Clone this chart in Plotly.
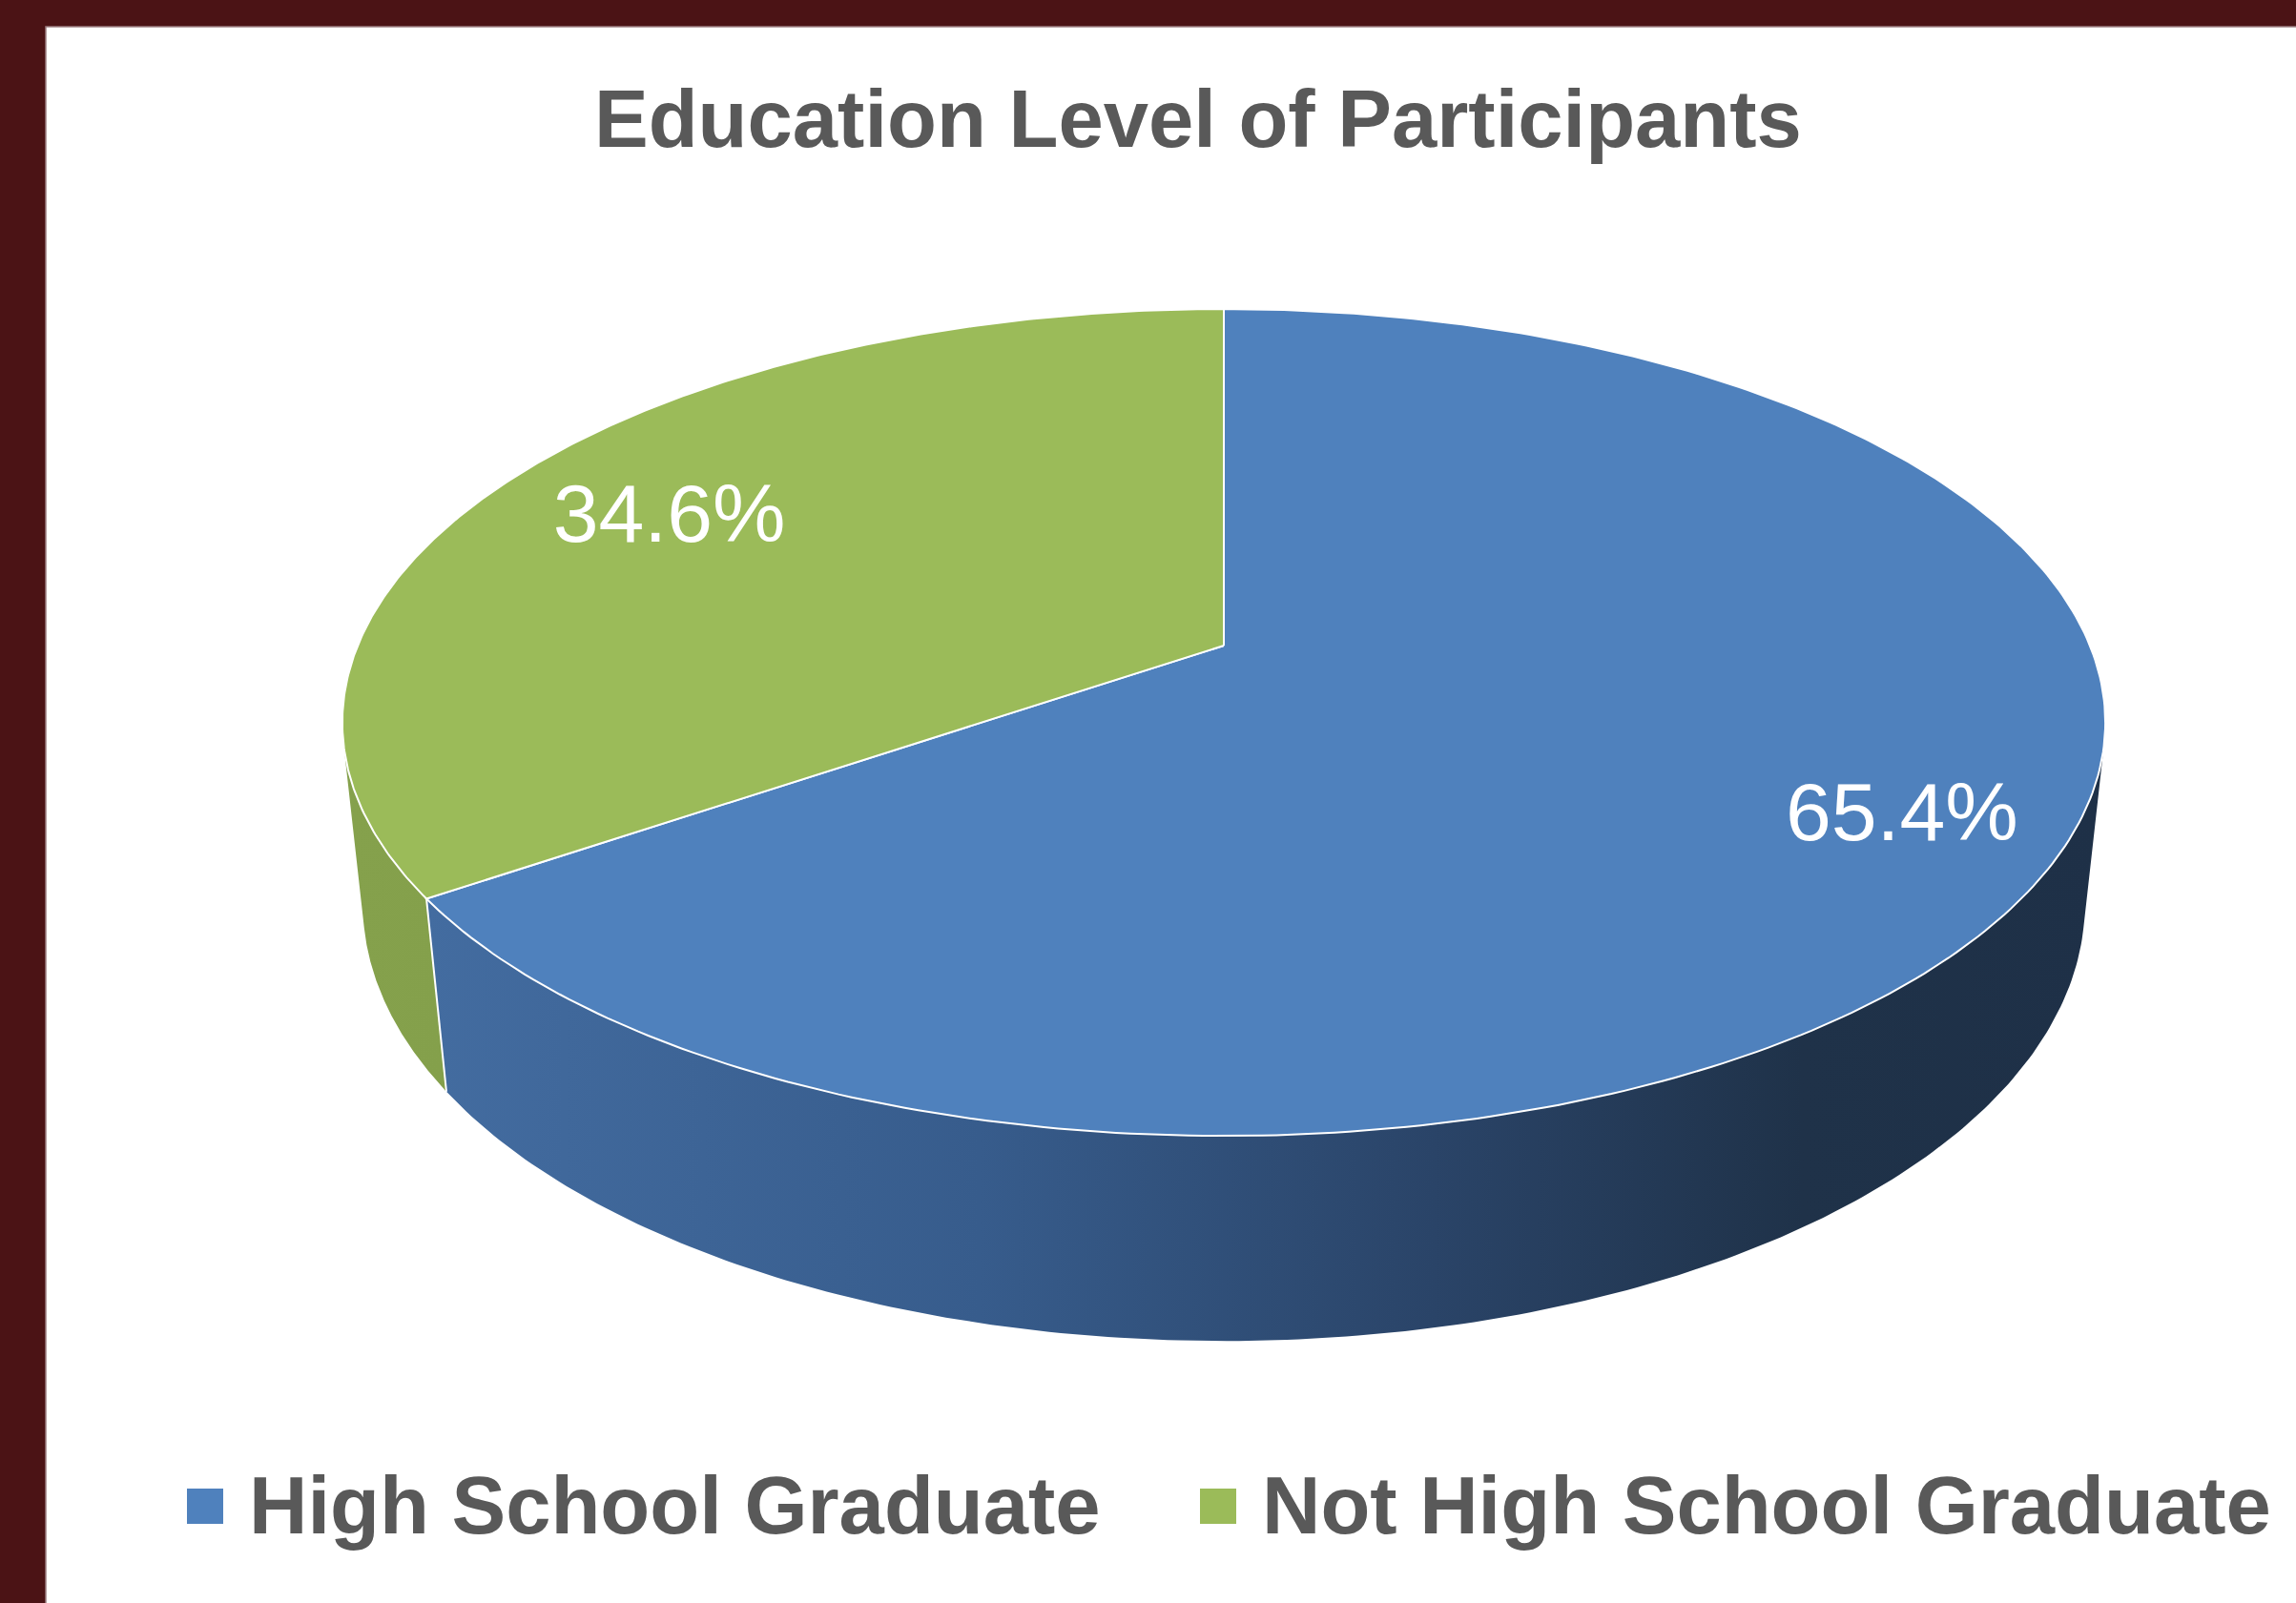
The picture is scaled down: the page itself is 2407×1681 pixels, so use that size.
import numpy as np
import plotly.graph_objects as go

# ---------------- data ----------------
categories = ["High School Graduate", "Not High School Graduate"]
values = [65.4, 34.6]
title_text = "Education Level of Participants"

# ---------------- style / layout constants ----------------
W, H = 2407, 1681
top_colors = ["#4F81BD", "#9BBB59"]
wall_gradients = [
    [[0, "#436CA0"], [0.33, "#375C8C"], [0.6, "#2A4468"], [0.82, "#1F3249"], [1, "#1E3047"]],
    [[0, "#85A14C"], [1, "#84A04B"]],
]
TEXT_GRAY = "#595959"
FONT = "Liberation Sans, Arial, sans-serif"

# 3-D perspective projection parameters (pixel space)
CX, CY = 1283, 677
FOCAL = 4331.0
DIST = 4.77
ELEV = np.radians(27.45)
THICK = 0.238
LABEL_R = 0.8
LABEL_DX, LABEL_DY = 20, 15


def proj(X, Y, Z):
    X, Y, Z = np.asarray(X, float), np.asarray(Y, float), np.asarray(Z, float)
    depth = DIST - (Y * np.cos(ELEV) + Z * np.sin(ELEV))
    v = Z * np.cos(ELEV) - Y * np.sin(ELEV)
    return CX + FOCAL * X / depth, CY - FOCAL * v / depth


def circ(psi_deg, r=1.0):
    p = np.radians(psi_deg)
    return r * np.sin(p), -r * np.cos(p)


total = sum(values)
bounds = np.concatenate([[0], np.cumsum(values) / total * 360.0])

# silhouette angles of the cylinder wall
Yc = DIST * np.cos(ELEV)
psi_s1 = np.degrees(np.arccos(-1.0 / Yc))
psi_s2 = 360.0 - psi_s1

fig = go.Figure()

# ---- side walls ----
for i in range(len(values)):
    a = max(bounds[i], psi_s1)
    b = min(bounds[i + 1], psi_s2)
    if b <= a:
        continue
    ps = np.linspace(a, b, 200)
    X, Y = circ(ps)
    tx, ty = proj(X, Y, np.zeros_like(X))
    bx, by = proj(X, Y, np.full_like(X, -THICK))
    xs = np.concatenate([tx, bx[::-1], tx[:1]])
    ys = np.concatenate([ty, by[::-1], ty[:1]])
    fig.add_trace(go.Scatter(
        x=xs, y=ys, mode="lines", fill="toself", line=dict(width=0),
        fillgradient=dict(type="horizontal", colorscale=wall_gradients[i]),
        hoverinfo="skip", showlegend=False))

# ---- vertical slice edges on the wall ----
for bnd in bounds[1:-1]:
    if psi_s1 <= bnd <= psi_s2:
        X, Y = circ(np.array([bnd, bnd]))
        ex, ey = proj(X, Y, np.array([0.0, -THICK]))
        fig.add_trace(go.Scatter(x=ex, y=ey, mode="lines",
                                 line=dict(color="white", width=2),
                                 hoverinfo="skip", showlegend=False))

# ---- top faces ----
for i in range(len(values)):
    ps = np.linspace(bounds[i], bounds[i + 1], 300)
    X, Y = circ(ps)
    X = np.concatenate([[0], X, [0]])
    Y = np.concatenate([[0], Y, [0]])
    sx, sy = proj(X, Y, np.zeros_like(X))
    fig.add_trace(go.Scatter(
        x=sx, y=sy, mode="lines", fill="toself", fillcolor=top_colors[i],
        line=dict(color="white", width=2), name=categories[i],
        hoverinfo="skip", showlegend=False))

# ---- data labels ----
mids = (bounds[:-1] + bounds[1:]) / 2
LX, LY = circ(mids, LABEL_R)
lx, ly = proj(LX, LY, np.zeros_like(LX))
fig.add_trace(go.Scatter(
    x=lx + LABEL_DX, y=ly + LABEL_DY, mode="text",
    text=[f"{v:.1f}%" for v in values],
    textposition="middle center",
    textfont=dict(family=FONT, size=86, color="white"),
    hoverinfo="skip", showlegend=False))

# ---- frame / background ----
shapes = [dict(type="rect", xref="x", yref="y", x0=48, y0=28, x1=W + 5, y1=H + 5,
               fillcolor="white", line=dict(color="#9C7E80", width=1.5), layer="below")]

# ---- legend (manual) ----
legend_x = [196, 1258]
for i, cat in enumerate(categories):
    shapes.append(dict(type="rect", xref="x", yref="y",
                       x0=legend_x[i], x1=legend_x[i] + 38, y0=1561, y1=1598,
                       fillcolor=top_colors[i], line=dict(width=0)))

annotations = [dict(text=f"<b>{title_text}</b>", x=1256, y=124, xref="x", yref="y",
                    showarrow=False, xanchor="center", yanchor="middle",
                    font=dict(family=FONT, size=85, color=TEXT_GRAY))]
for i, cat in enumerate(categories):
    annotations.append(dict(text=f"<b>{cat}</b>", x=legend_x[i] + 63, y=1578,
                            xref="x", yref="y", showarrow=False,
                            xanchor="left", yanchor="middle",
                            font=dict(family=FONT, size=85, color=TEXT_GRAY)))

fig.update_layout(
    width=W, height=H, margin=dict(l=0, r=0, t=0, b=0, pad=0),
    paper_bgcolor="#4B1315", plot_bgcolor="rgba(0,0,0,0)",
    xaxis=dict(range=[0, W], visible=False, fixedrange=True),
    yaxis=dict(range=[H, 0], visible=False, fixedrange=True),
    shapes=shapes, annotations=annotations, showlegend=False,
)

fig.write_html("out.html")
